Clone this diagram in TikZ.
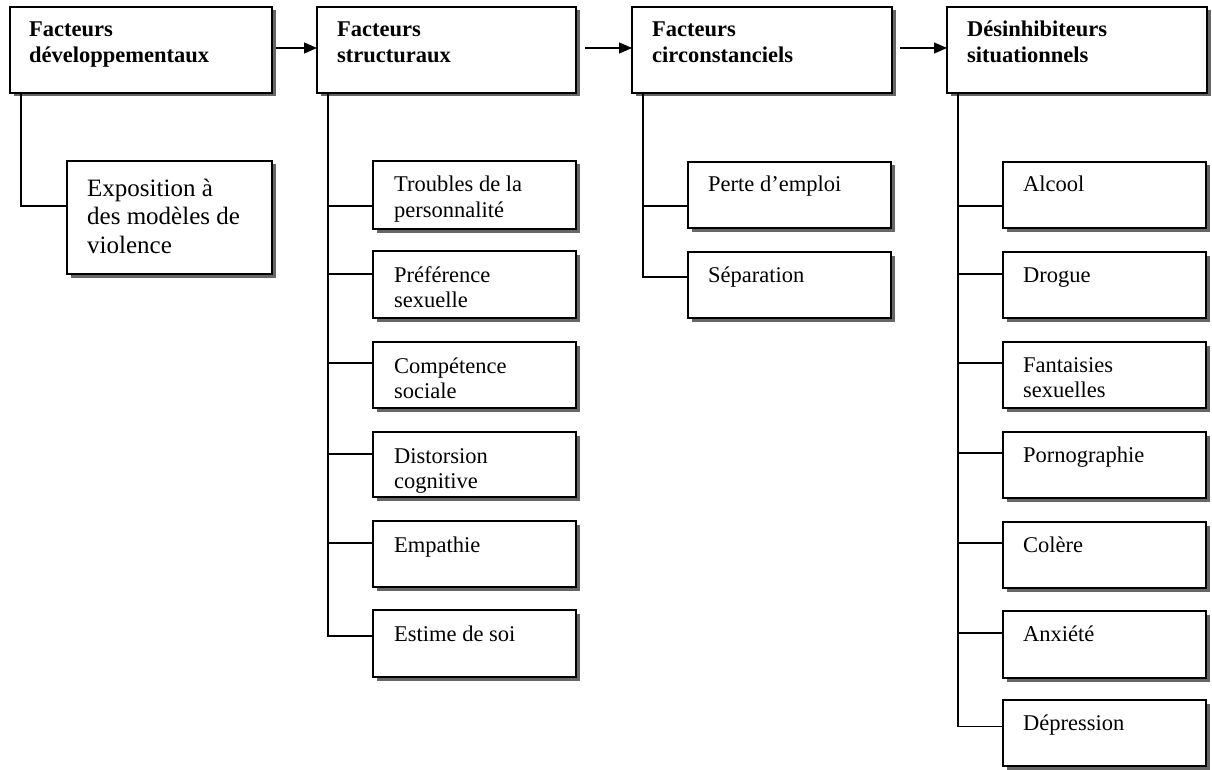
\documentclass[tikz,border=0pt]{standalone}
\usepackage{fontspec}
\setmainfont{Liberation Serif}
\usetikzlibrary{arrows.meta,shadows,calc}
\newcommand{\mkbox}[5]{%
  \node[box, minimum width={#4-#2}, minimum height={#5-#3}] (#1) at ({(#2+#4)/2},{(#3+#5)/2}) {};}
\begin{document}
\begin{tikzpicture}[x=1pt,y=-1pt,
  box/.style={draw=black, line width=1.3pt, fill=white, inner sep=0pt, outer sep=0pt,
    drop shadow={shadow xshift=3.5pt, shadow yshift=-3.5pt, fill=black!60, opacity=1}},
  hd/.style={anchor=base west, inner sep=0pt, align=left, font=\fontsize{22.5}{26}\selectfont\bfseries},
  tx/.style={anchor=base west, inner sep=0pt, align=left, font=\fontsize{22.5}{25}\selectfont},
  tbig/.style={anchor=base west, inner sep=0pt, align=left, font=\fontsize{25}{28.5}\selectfont},
  link/.style={draw=black, line width=1.3pt},
  arr/.style={draw=black, line width=1.3pt, -{Triangle[length=13pt,width=11pt]}}]
\useasboundingbox (0,0) rectangle (1212,770);
% headers
\mkbox{h1}{10}{7}{272}{93}
\mkbox{h2}{317}{7}{576}{93}
\mkbox{h3}{632}{7}{892}{93}
\mkbox{h4}{947}{7}{1207}{93}
% (anchor base = last line baseline)
\node[hd] (h1t) at ([shift={(19pt,-56pt)}]h1.north west) {Facteurs\\développementaux};
\node[hd] (h2t) at ([shift={(20pt,-56pt)}]h2.north west) {Facteurs\\structuraux};
\node[hd] (h3t) at ([shift={(20pt,-56pt)}]h3.north west) {Facteurs\\circonstanciels};
\node[hd] (h4t) at ([shift={(20pt,-56pt)}]h4.north west) {Désinhibiteurs\\situationnels};
% header arrows
\draw[arr, shorten <=4pt] ([yshift=2pt]h1.east) -- ([yshift=2pt]h2.west);
\draw[arr, shorten <=9pt] ([yshift=2pt]h2.east) -- ([yshift=2pt]h3.west);
\draw[arr, shorten <=8pt] ([yshift=2pt]h3.east) -- ([yshift=2pt]h4.west);
% column 1
\mkbox{e1}{67}{161}{272}{274}
\node[tbig] (e1t) at ([shift={(20pt,-92pt)}]e1.north west) {Exposition à\\des modèles de\\violence};
\coordinate (c1) at ([xshift=11pt]h1.south west);
\draw[link] (c1) |- ([yshift=11.5pt]e1.west);
% column 2
\mkbox{s1}{373}{161}{576}{229}
\mkbox{s2}{373}{251}{576}{318}
\mkbox{s3}{373}{342}{576}{408}
\mkbox{s4}{373}{432}{576}{497}
\mkbox{s5}{373}{521}{576}{587}
\mkbox{s6}{373}{610}{576}{677}
\node[tx] (s1t) at ([shift={(21pt,-56pt)}]s1.north west) {Troubles de la\\personnalité};
\node[tx] (s2t) at ([shift={(21pt,-56pt)}]s2.north west) {Préférence\\sexuelle};
\node[tx] (s3t) at ([shift={(21pt,-56pt)}]s3.north west) {Compétence\\sociale};
\node[tx] (s4t) at ([shift={(21pt,-56pt)}]s4.north west) {Distorsion\\cognitive};
\node[tx] (s5t) at ([shift={(21pt,-31pt)}]s5.north west) {Empathie};
\node[tx] (s6t) at ([shift={(21pt,-31pt)}]s6.north west) {Estime de soi};
\coordinate (c2) at ([xshift=11pt]h2.south west);
\draw[link] (c2) |- ([yshift=-11pt]s1.west);
\draw[link] (c2) |- ([yshift=10.5pt]s2.west);
\draw[link] (c2) |- ([yshift=12pt]s3.west);
\draw[link] (c2) |- ([yshift=10.5pt]s4.west);
\draw[link] (c2) |- ([yshift=11pt]s5.west);
\draw[link] (c2) |- ([yshift=7.5pt]s6.west);
% column 3
\mkbox{p1}{688}{162}{891}{228}
\mkbox{p2}{688}{252}{891}{318}
\node[tx] (p1t) at ([shift={(20pt,-30pt)}]p1.north west) {Perte d’emploi};
\node[tx] (p2t) at ([shift={(20pt,-30pt)}]p2.north west) {Séparation};
\coordinate (c3) at ([xshift=11pt]h3.south west);
\draw[link] (c3) |- ([yshift=-11pt]p1.west);
\draw[link] (c3) |- ([yshift=8pt]p2.west);
% column 4
\mkbox{d1}{1003}{162}{1206}{228}
\mkbox{d2}{1003}{252}{1206}{318}
\mkbox{d3}{1003}{342}{1206}{408}
\mkbox{d4}{1003}{432}{1206}{498}
\mkbox{d5}{1003}{522}{1206}{588}
\mkbox{d6}{1003}{611}{1206}{678}
\mkbox{d7}{1003}{700}{1206}{766}
\node[tx] (d1t) at ([shift={(20pt,-30pt)}]d1.north west) {Alcool};
\node[tx] (d2t) at ([shift={(20pt,-30pt)}]d2.north west) {Drogue};
\node[tx] (d3t) at ([shift={(20pt,-55pt)}]d3.north west) {Fantaisies\\sexuelles};
\node[tx] (d4t) at ([shift={(20pt,-30pt)}]d4.north west) {Pornographie};
\node[tx] (d5t) at ([shift={(20pt,-30pt)}]d5.north west) {Colère};
\node[tx] (d6t) at ([shift={(20pt,-30pt)}]d6.north west) {Anxiété};
\node[tx] (d7t) at ([shift={(20pt,-30pt)}]d7.north west) {Dépression};
\coordinate (c4) at ([xshift=11pt]h4.south west);
\draw[link] (c4) |- ([yshift=-11pt]d1.west);
\draw[link] (c4) |- ([yshift=11pt]d2.west);
\draw[link] (c4) |- ([yshift=12pt]d3.west);
\draw[link] (c4) |- ([yshift=12pt]d4.west);
\draw[link] (c4) |- ([yshift=12pt]d5.west);
\draw[link] (c4) |- ([yshift=11.5pt]d6.west);
\draw[link] (c4) |- ([yshift=6.5pt]d7.west);
\end{tikzpicture}
\end{document}
